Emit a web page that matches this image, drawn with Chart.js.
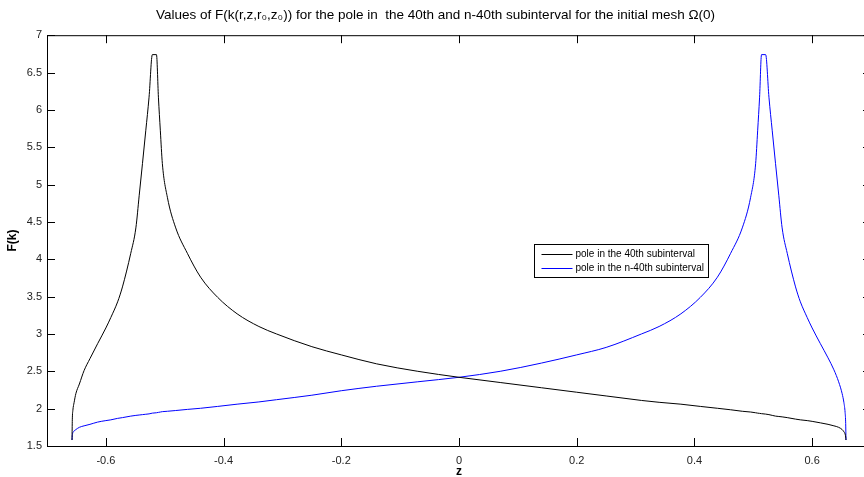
<!DOCTYPE html>
<html>
<head>
<meta charset="utf-8">
<script src="https://cdn.jsdelivr.net/npm/chart.js@4/dist/chart.umd.min.js"></script>
<style>
  html, body { margin: 0; padding: 0; background: #fff; overflow: hidden; }
  #wrap { width: 872px; height: 477px; }
</style>
</head>
<body>
<div id="wrap"><canvas id="poleChart" width="872" height="477"></canvas></div>
<script>
// z positions (shared by both series)
const zValues = [-0.6575, -0.657, -0.656, -0.654, -0.651, -0.645, -0.637, -0.627, -0.614, -0.600,
  -0.5916, -0.580, -0.5718, -0.5577, -0.549, -0.5434, -0.5378, -0.5322, -0.5266, -0.521,
  -0.514, -0.5107, -0.5074, -0.504, -0.4955, -0.4813, -0.4615, -0.439, -0.41, -0.377,
  -0.34, -0.31, -0.25, -0.20, -0.14, -0.07, 0, 0.07, 0.14, 0.20,
  0.25, 0.31, 0.34, 0.377, 0.41, 0.439, 0.4615, 0.4813, 0.4955, 0.504,
  0.5074, 0.5107, 0.514, 0.521, 0.5266, 0.5322, 0.5378, 0.5434, 0.549, 0.5577,
  0.5718, 0.580, 0.5916, 0.600, 0.614, 0.627, 0.637, 0.645, 0.651, 0.654,
  0.656, 0.657, 0.6575];

// pole in the 40th subinterval
const pole40 = [1.58, 1.85, 1.98, 2.08, 2.20, 2.33, 2.51, 2.67, 2.87, 3.08,
  3.22, 3.43, 3.63, 4.08, 4.42, 4.85, 5.28, 5.72, 6.17, 6.74,
  6.74, 6.17, 5.72, 5.28, 4.83, 4.42, 4.08, 3.76, 3.49, 3.27,
  3.10, 3.00, 2.83, 2.72, 2.60, 2.50, 2.42, 2.35, 2.28, 2.22,
  2.17, 2.11, 2.085, 2.06, 2.03, 2.005, 1.985, 1.965, 1.955, 1.945,
  1.94, 1.937, 1.933, 1.927, 1.92, 1.91, 1.90, 1.895, 1.89, 1.88,
  1.86, 1.85, 1.84, 1.83, 1.81, 1.79, 1.77, 1.75, 1.72, 1.69,
  1.66, 1.62, 1.58];

// pole in the n-40th subinterval
const poleN40 = [1.58, 1.64, 1.68, 1.70, 1.72, 1.75, 1.77, 1.79, 1.82, 1.84,
  1.85, 1.87, 1.88, 1.90, 1.91, 1.915, 1.92, 1.925, 1.93, 1.94,
  1.945, 1.95, 1.955, 1.96, 1.965, 1.975, 1.99, 2.005, 2.03, 2.06,
  2.09, 2.12, 2.18, 2.24, 2.30, 2.36, 2.42, 2.50, 2.61, 2.72,
  2.82, 3.00, 3.10, 3.27, 3.49, 3.76, 4.08, 4.42, 4.83, 5.28,
  5.72, 6.17, 6.74, 6.74, 6.17, 5.72, 5.28, 4.85, 4.42, 4.08,
  3.63, 3.43, 3.22, 3.08, 2.87, 2.68, 2.52, 2.36, 2.20, 2.08,
  1.95, 1.80, 1.58];

const xTicks = [-0.6, -0.4, -0.2, 0, 0.2, 0.4, 0.6];
const yTicks = [1.5, 2, 2.5, 3, 3.5, 4, 4.5, 5, 5.5, 6, 6.5, 7];
const seriesNames = ["pole in the 40th subinterval", "pole in the n-40th subinterval"];

const toPoints = (ys) => ys.map((y, i) => ({ x: zValues[i], y: y }));

// matlab style box: inward ticks on every side
const boxTicks = {
  id: "boxTicks",
  afterDraw(chart) {
    const ctx = chart.ctx, a = chart.chartArea;
    const xs = chart.scales.x, ys = chart.scales.y;
    const len = 8;
    ctx.save();
    ctx.strokeStyle = "#000";
    ctx.lineWidth = 1;
    ctx.beginPath();
    ctx.rect(a.left + 0.5, a.top + 0.5, a.right - a.left, a.bottom - a.top);
    xTicks.forEach(v => {
      const px = Math.round(xs.getPixelForValue(v)) + 0.5;
      ctx.moveTo(px, a.bottom); ctx.lineTo(px, a.bottom - len);
      ctx.moveTo(px, a.top); ctx.lineTo(px, a.top + len);
    });
    yTicks.forEach(v => {
      const py = Math.round(ys.getPixelForValue(v)) + 0.5;
      ctx.moveTo(a.left, py); ctx.lineTo(a.left + len, py);
      ctx.moveTo(a.right, py); ctx.lineTo(a.right - len, py);
    });
    ctx.stroke();
    ctx.restore();
  }
};

// legend box inside the plot
const boxLegend = {
  id: "boxLegend",
  afterDraw(chart) {
    const ctx = chart.ctx;
    const bx = 534.5, by = 244.5, bw = 174, bh = 33;
    ctx.save();
    ctx.fillStyle = "#fff";
    ctx.fillRect(bx, by, bw, bh);
    ctx.strokeStyle = "#000";
    ctx.lineWidth = 1;
    ctx.strokeRect(bx, by, bw, bh);
    ctx.font = "10px 'Liberation Sans', Arial, sans-serif";
    ctx.textBaseline = "middle";
    chart.data.datasets.forEach((ds, i) => {
      const y = by + 10 + i * 14;
      ctx.strokeStyle = ds.borderColor;
      ctx.beginPath();
      ctx.moveTo(bx + 7, y); ctx.lineTo(bx + 38, y);
      ctx.stroke();
      ctx.fillStyle = "#000";
      ctx.fillText(ds.label, bx + 41, y);
    });
    ctx.restore();
  }
};

function createPoleChart() {
  const ctx = document.getElementById("poleChart").getContext("2d");
  new Chart(ctx, {
    type: "line",
    data: {
      datasets: [
        { label: seriesNames[0], data: toPoints(pole40), borderColor: "#000000", borderWidth: 1, pointRadius: 0, cubicInterpolationMode: "monotone", fill: false },
        { label: seriesNames[1], data: toPoints(poleN40), borderColor: "#0000ff", borderWidth: 1, pointRadius: 0, cubicInterpolationMode: "monotone", fill: false }
      ]
    },
    options: {
      responsive: false,
      animation: false,
      layout: { padding: { left: 0, right: 1, top: 0, bottom: 0 } },
      scales: {
        x: {
          type: "linear",
          min: -0.7,
          max: 0.7,
          afterBuildTicks: (s) => { s.ticks = xTicks.map(v => ({ value: v })); },
          afterFit: (s) => { s.height = 31; },
          grid: { display: false, drawTicks: false },
          border: { display: false },
          ticks: { padding: 8, color: "#222", font: { family: "'Liberation Sans', Arial, sans-serif", size: 11 }, callback: (v) => String(v), maxRotation: 0 },
          title: { display: true, text: "z", color: "#000", padding: { top: 0, bottom: -2 }, font: { family: "'Liberation Sans', Arial, sans-serif", size: 12, weight: "bold" } }
        },
        y: {
          min: 1.5,
          max: 7,
          afterBuildTicks: (s) => { s.ticks = yTicks.map(v => ({ value: v })); },
          afterFit: (s) => { s.width = 47; },
          grid: { display: false, drawTicks: false },
          border: { display: false },
          ticks: { padding: 5, color: "#222", font: { family: "'Liberation Sans', Arial, sans-serif", size: 11 }, callback: (v) => String(v) },
          title: { display: true, text: "F(k)", color: "#000", padding: { top: 5, bottom: 0 }, font: { family: "'Liberation Sans', Arial, sans-serif", size: 12, weight: "bold" } }
        }
      },
      plugins: {
        legend: { display: false },
        tooltip: { enabled: false },
        title: {
          display: true,
          text: "Values of F(k(r,z,r\u2080,z\u2080)) for the pole in  the 40th and n-40th subinterval for the initial mesh \u03A9(0)",
          color: "#000",
          font: { family: "'Liberation Sans', Arial, sans-serif", size: 13.5, weight: "normal" },
          padding: { top: 7, bottom: 12 }
        }
      }
    },
    plugins: [boxTicks, boxLegend]
  });
}

window.addEventListener("load", createPoleChart);
</script>
</body>
</html>
